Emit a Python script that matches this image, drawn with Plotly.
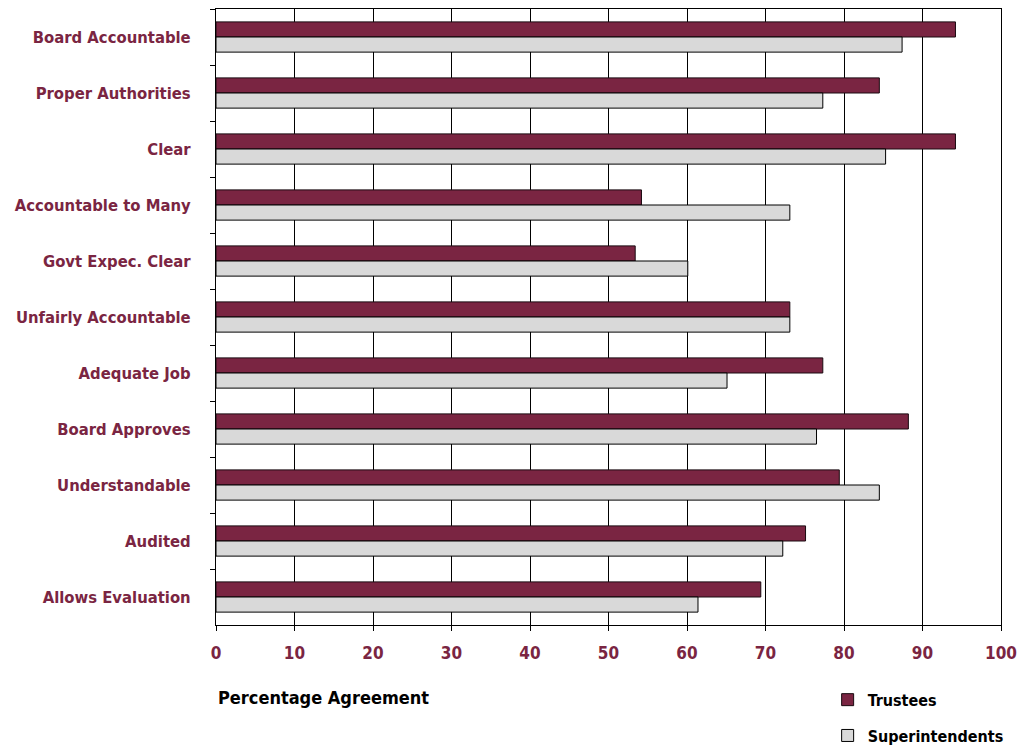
import plotly.graph_objects as go

categories = [
    "Board Accountable", "Proper Authorities", "Clear", "Accountable to Many",
    "Govt Expec. Clear", "Unfairly Accountable", "Adequate Job", "Board Approves",
    "Understandable", "Audited", "Allows Evaluation",
]
trustees = [94.2, 84.5, 94.2, 54.2, 53.4, 73.1, 77.3, 88.2, 79.4, 75.1, 69.4]
superintendents = [87.4, 77.3, 85.3, 73.1, 60.1, 73.1, 65.1, 76.5, 84.5, 72.2, 61.4]
x_ticks = list(range(0, 101, 10))

MAROON = "#7a2542"
GREY = "#d9d9d9"
LABEL_FONT = "DejaVu Sans Condensed, DejaVu Sans, sans-serif"

fig = go.Figure()
fig.add_trace(go.Bar(
    y=categories, x=trustees, orientation="h", name="Trustees",
    marker=dict(color=MAROON, line=dict(color="#1a0a10", width=1)),
    legend="legend",
))
fig.add_trace(go.Bar(
    y=categories, x=superintendents, orientation="h", name="Superintendents",
    marker=dict(color=GREY, line=dict(color="#000000", width=1)),
    legend="legend2",
))

legend_common = dict(
    bgcolor="rgba(0,0,0,0)", borderwidth=0,
    font=dict(family=LABEL_FONT, size=16, color="#000000", weight="bold"),
    xref="container", yref="container",
    xanchor="left", yanchor="middle", itemwidth=30,
)

fig.update_layout(
    width=1018, height=746,
    margin=dict(l=216, r=17, t=9, b=121, autoexpand=False),
    paper_bgcolor="white", plot_bgcolor="white",
    barmode="group", bargap=0.46, bargroupgap=0,
    showlegend=True,
    legend=dict(x=0.813, y=0.062, **legend_common),
    legend2=dict(x=0.813, y=0.014, **legend_common),
    xaxis=dict(
        range=[0, 100], tickvals=x_ticks,
        showgrid=True, gridcolor="#000000", gridwidth=1,
        showline=True, linecolor="#000000", linewidth=1, mirror=True,
        ticks="outside", ticklen=5, tickcolor="#000000",
        tickfont=dict(family=LABEL_FONT, size=17, color=MAROON, weight="bold"),
        ticklabelstandoff=8,
        zeroline=False,
    ),
    yaxis=dict(
        autorange="reversed", type="category",
        showline=True, linecolor="#000000", linewidth=1, mirror=True,
        ticks="outside", ticklen=5, tickcolor="#000000", tickson="boundaries",
        tickfont=dict(family=LABEL_FONT, size=16.5, color=MAROON, weight="bold"),
        ticklabelstandoff=21,
        showgrid=False,
    ),
    annotations=[dict(
        text="<b>Percentage Agreement</b>", xref="paper", yref="paper",
        x=0, y=-0.117, xanchor="left", yanchor="middle", showarrow=False,
        font=dict(family=LABEL_FONT, size=18, color="#000000"),
    )],
)

fig.write_html("out.html")
